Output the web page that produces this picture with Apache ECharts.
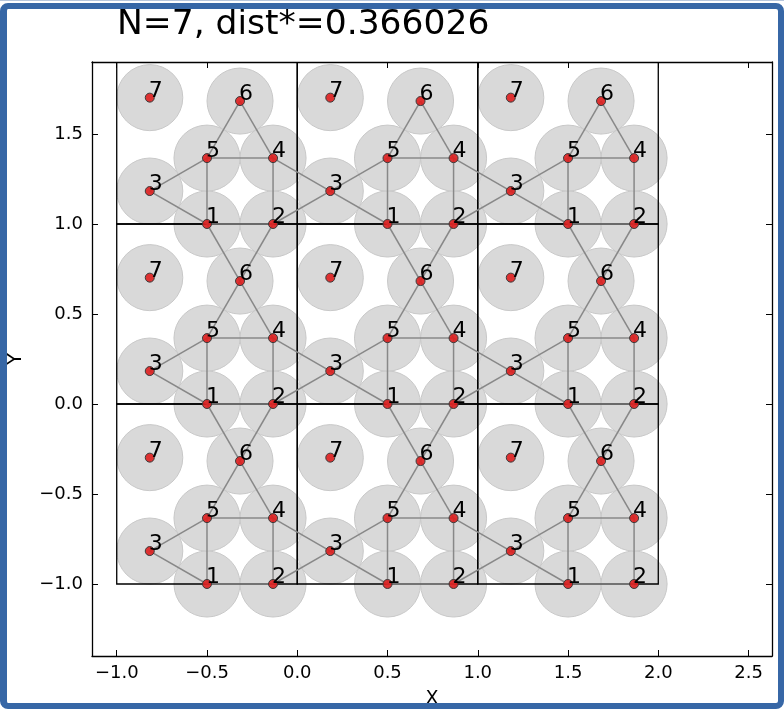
<!DOCTYPE html>
<html>
<head>
<meta charset="utf-8">
<script src="https://cdn.jsdelivr.net/npm/echarts@6/dist/echarts.min.js"></script>
<style>
  html, body { margin: 0; padding: 0; background: #fff; }
  #main { position: absolute; left: 0; top: 0; width: 784px; height: 709px; }
  #frame {
    position: absolute; left: 0; top: 3px; width: 784px; height: 706px;
    box-sizing: border-box; border: 6px solid #3767a6; border-left-width: 7px;
    border-radius: 8px; pointer-events: none;
  }
  #topline { position: absolute; left: 0; top: 0; width: 784px; height: 1px; background: #b7c6dc; }
</style>
</head>
<body>
<div id="main"></div>
<div id="topline"></div>
<div id="frame"></div>
<script>
// points of the unit cell (label, x, y)
var labels = ['1', '2', '3', '4', '5', '6', '7'];
var px = [0.500, 0.866, 0.183, 0.866, 0.500, 0.683, 0.183];
var py = [0.000, 0.000, 0.183, 0.366, 0.366, 0.683, 0.702];
var dist = 0.366026;
// periodic copies
var shifts = [-1, 0, 1];
var xTicks = [-1.0, -0.5, 0.0, 0.5, 1.0, 1.5, 2.0, 2.5];
var yTicks = [-1.0, -0.5, 0.0, 0.5, 1.0, 1.5];

var pts = [];
shifts.forEach(function (sy) {
  shifts.forEach(function (sx) {
    for (var i = 0; i < labels.length; i++) {
      pts.push([px[i] + sx, py[i] + sy, labels[i]]);
    }
  });
});

// contacts: pairs at distance dist
var edges = [];
for (var a = 0; a < pts.length; a++) {
  for (var b = a + 1; b < pts.length; b++) {
    var d = Math.hypot(pts[a][0] - pts[b][0], pts[a][1] - pts[b][1]);
    if (Math.abs(d - dist) < 0.01) edges.push([pts[a][0], pts[a][1], pts[b][0], pts[b][1]]);
  }
}

var cells = [];
shifts.forEach(function (sy) {
  shifts.forEach(function (sx) { cells.push([sx, sy]); });
});

function fmt(v) {
  return (v < 0 ? '\u2212' : '') + Math.abs(v).toFixed(1);
}

var myChart = echarts.init(document.getElementById('main'));
var font = 'DejaVu Sans';

var option = {
  animation: false,
  textStyle: { fontFamily: font },
  title: {
    text: 'N=7, dist*=0.366026',
    left: 112, top: 3,
    textStyle: { fontSize: 34.5, fontWeight: 'normal', color: '#000', fontFamily: font }
  },
  grid: { left: 92, top: 62, right: 12, bottom: 53, containLabel: false, outerBoundsMode: 'none' },
  xAxis: [{
    type: 'value', position: 'bottom', min: -1.137, max: 2.63,
    name: 'X', nameLocation: 'middle', nameGap: 34,
    nameTextStyle: { fontSize: 19, color: '#000' },
    axisLine: { onZero: false, lineStyle: { color: '#000', width: 1.3 } },
    axisTick: { inside: true, length: 6, customValues: xTicks, lineStyle: { color: '#000' } },
    axisLabel: { customValues: xTicks, formatter: fmt, fontSize: 18, color: '#000', margin: 8 },
    splitLine: { show: false }
  }, {
    type: 'value', position: 'top', min: -1.137, max: 2.63,
    axisLine: { onZero: false, lineStyle: { color: '#000', width: 1.3 } },
    axisTick: { inside: true, length: 6, customValues: xTicks, lineStyle: { color: '#000' } },
    axisLabel: { show: false },
    splitLine: { show: false }
  }],
  yAxis: [{
    type: 'value', position: 'left', min: -1.4, max: 1.9,
    name: 'Y', nameLocation: 'middle', nameGap: 66, nameRotate: 90,
    nameTextStyle: { fontSize: 19, color: '#000' },
    axisLine: { onZero: false, lineStyle: { color: '#000', width: 1.3 } },
    axisTick: { inside: true, length: 6, customValues: yTicks, lineStyle: { color: '#000' } },
    axisLabel: { customValues: yTicks, formatter: fmt, fontSize: 18, color: '#000', margin: 9 },
    splitLine: { show: false }
  }, {
    type: 'value', position: 'right', min: -1.4, max: 1.9,
    axisLine: { onZero: false, lineStyle: { color: '#000', width: 1.3 } },
    axisTick: { inside: true, length: 6, customValues: yTicks, lineStyle: { color: '#000' } },
    axisLabel: { show: false },
    splitLine: { show: false }
  }],
  series: [{
    // gray disks of radius dist/2
    type: 'custom', z: 1, clip: true, silent: true,
    data: pts.map(function (p) { return [p[0], p[1]]; }),
    renderItem: function (params, api) {
      var c = api.coord([api.value(0), api.value(1)]);
      var s = api.size([dist / 2, dist / 2]);
      return {
        type: 'circle',
        shape: { cx: c[0], cy: c[1], r: s[0] },
        style: { fill: '#d9d9d9', stroke: '#c8c8c8', lineWidth: 1 }
      };
    }
  }, {
    // unit cells
    type: 'custom', z: 2, clip: true, silent: true,
    data: cells,
    renderItem: function (params, api) {
      var p0 = api.coord([api.value(0), api.value(1) + 1]);
      var p1 = api.coord([api.value(0) + 1, api.value(1)]);
      return {
        type: 'rect',
        shape: { x: p0[0], y: p0[1], width: p1[0] - p0[0], height: p1[1] - p0[1] },
        style: { fill: null, stroke: '#000', lineWidth: 1.3 }
      };
    }
  }, {
    // contact lines
    type: 'custom', z: 3, clip: true, silent: true,
    data: edges,
    renderItem: function (params, api) {
      var p0 = api.coord([api.value(0), api.value(1)]);
      var p1 = api.coord([api.value(2), api.value(3)]);
      return {
        type: 'line',
        shape: { x1: p0[0], y1: p0[1], x2: p1[0], y2: p1[1] },
        style: { stroke: '#888', lineWidth: 1.5 }
      };
    }
  }, {
    type: 'scatter', z: 4, silent: true,
    data: pts,
    symbolSize: 9,
    itemStyle: { color: 'rgba(222,30,30,0.9)', borderColor: '#3a3a3a', borderWidth: 1, opacity: 1 },
    label: {
      show: true, position: [4, -1.5], align: 'left', verticalAlign: 'middle',
      formatter: function (p) { return p.value[2]; },
      fontSize: 22, color: '#000', fontFamily: font
    }
  }]
};
myChart.setOption(option);
</script>
</body>
</html>
